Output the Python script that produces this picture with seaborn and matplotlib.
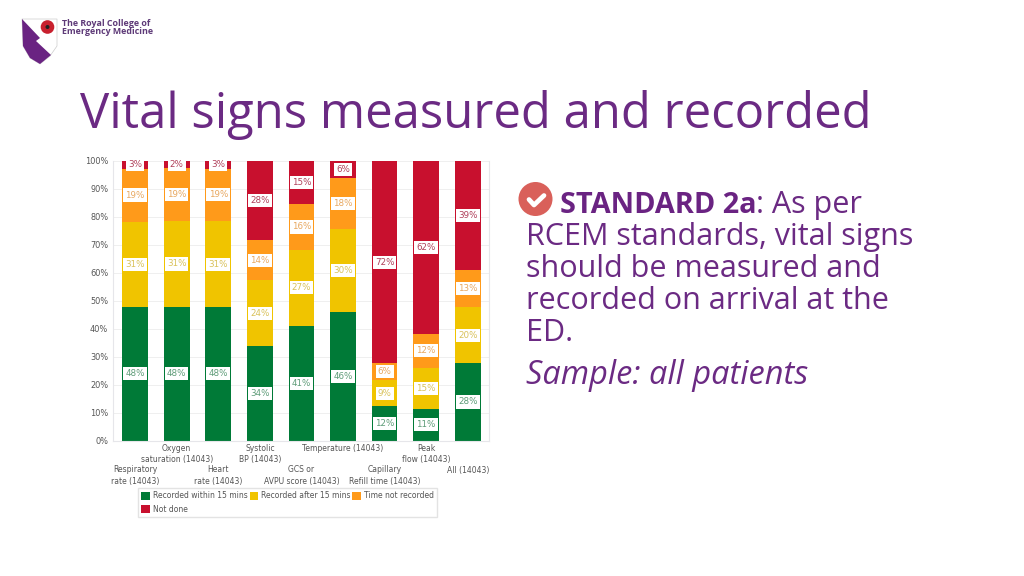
import matplotlib
matplotlib.use("Agg")
import matplotlib.pyplot as plt
from matplotlib.patches import Polygon, Circle, Patch
import numpy as np
import seaborn as sns

categories = ["Respiratory\nrate (14043)", "Oxygen\nsaturation (14043)", "Heart\nrate (14043)",
              "Systolic\nBP (14043)", "GCS or\nAVPU score (14043)", "Temperature (14043)",
              "Capillary\nRefill time (14043)", "Peak\nflow (14043)", "All (14043)"]
within_15 = [47.7, 47.7, 47.7, 33.8, 41.0, 45.9, 12.3, 11.2, 27.6]
after_15 = [30.6, 30.9, 30.8, 23.5, 27.2, 29.7, 9.2, 14.8, 20.2]
no_time = [19.0, 19.0, 18.8, 14.3, 16.4, 18.4, 6.1, 12.2, 13.2]
not_done = [2.7, 2.4, 2.7, 28.4, 15.4, 6.0, 72.4, 61.8, 39.0]
series_names = ["Recorded within 15 mins", "Recorded after 15 mins", "Time not recorded", "Not done"]
series_values = [within_15, after_15, no_time, not_done]
series_colors = ["#007A37", "#F0C400", "#FF9A1A", "#C8102E"]
label_colors = ["#5E9C78", "#D9C25A", "#E8A860", "#B0405A"]
y_ticks = [0, 10, 20, 30, 40, 50, 60, 70, 80, 90, 100]

title = "Vital signs measured and recorded"
body_lines = ["RCEM standards, vital signs", "should be measured and",
              "recorded on arrival at the", "ED."]
PURPLE = "#6B2A83"
BODY = "#6B2A83"
TEXT_FONT = ["Open Sans", "DejaVu Sans"]
CHART_FONT = ["DejaVu Sans"]

sns.set_theme(style="white")
plt.rcParams["font.family"] = CHART_FONT

W, H = 1024, 576
fig = plt.figure(figsize=(W / 100, H / 100), dpi=100, facecolor="white")

def rect(l, t, r, b):
    return [l / W, 1 - b / H, (r - l) / W, (b - t) / H]

ax = fig.add_axes(rect(113, 161, 489, 440.5))
bottom = np.zeros(len(categories))
for vals, col in zip(series_values, series_colors):
    vals = np.array(vals)
    sns.barplot(x=categories, y=vals, bottom=bottom, color=col, saturation=1, width=0.62,
                ax=ax, errorbar=None, linewidth=0)
    bottom = bottom + vals

bottom = np.zeros(len(categories))
for vals, tc in zip(series_values, label_colors):
    for i, v in enumerate(vals):
        ax.text(i, bottom[i] + v / 2, f"{round(v)}%", ha="center", va="center", fontsize=6.3,
                color=tc, zorder=6, clip_on=False,
                bbox=dict(boxstyle="square,pad=0.24", fc="white", ec="none"))
    bottom = bottom + np.array(vals)

ax.set_xlim(-0.53, 8.51)
ax.set_ylim(0, 100)
ax.set_yticks(y_ticks)
ax.set_yticklabels([f"{t}%" for t in y_ticks], fontsize=5.9, color="#555555")
ax.grid(axis="y", color="#EFEFEF", lw=0.7)
ax.set_axisbelow(True)
ax.set_xlabel("")
ax.set_ylabel("")
for s in ax.spines.values():
    s.set_color("#E6E6EA")
    s.set_linewidth(0.8)
ax.spines["top"].set_visible(False)
ax.tick_params(axis="y", length=0, pad=3.5)
ax.tick_params(axis="x", length=0)
for i, (tick, lab) in enumerate(zip(ax.xaxis.get_major_ticks(), ax.get_xticklabels())):
    tick.set_pad(2.2 if i % 2 else 18)
    lab.set_fontsize(5.5)
    lab.set_color("#555555")
    lab.set_linespacing(1.4)

legend_order = [0, 3, 1, 2]
handles = [Patch(fc=series_colors[k], ec="none") for k in legend_order]
labels = [series_names[k] for k in legend_order]
leg = fig.legend(handles, labels, ncol=3, loc="upper left",
                 bbox_to_anchor=(138 / W, 1 - 488 / H), bbox_transform=fig.transFigure,
                 fontsize=5.5, frameon=True, fancybox=False, edgecolor="#DDDDDD",
                 handlelength=1.1, handleheight=1.1, handletextpad=0.4, columnspacing=0.25,
                 labelspacing=0.55, borderpad=0.45, borderaxespad=0, labelcolor="#555555")

# Overlay in pixel coordinates for the slide furniture
ov = fig.add_axes([0, 0, 1, 1], zorder=-1)
ov.set_xlim(0, W)
ov.set_ylim(H, 0)
ov.axis("off")
shield = [(22, 19), (57, 19), (57, 46), (50, 56), (40, 64), (30, 58), (23, 46)]
ov.add_patch(Polygon(shield, closed=True, fc="white", ec="#CCCCCC", lw=0.5))
ov.add_patch(Polygon([(22, 19), (40, 38), (36, 41), (51, 55), (40, 64), (30, 58), (23, 46)],
                     closed=True, fc="#6A2382", ec="none"))
ov.add_patch(Circle((47.5, 27), 6.8, fc="#C8202E", ec="none"))
ov.add_patch(Circle((47.5, 27), 2, fc="#222222", ec="none"))
ov.text(62, 25.5, "The Royal College of", fontsize=6.4, fontweight="bold", color="#5E3A78",
        family=["Open Sans"], va="baseline")
ov.text(62, 34.5, "Emergency Medicine", fontsize=6.4, fontweight="bold", color="#5E3A78",
        family=["Open Sans"], va="baseline")

ov.text(80, 127.5, title, fontsize=35.3, color=PURPLE, family=TEXT_FONT, va="baseline")

ov.add_patch(Circle((535.5, 199), 17, fc="#D9605A", ec="none"))
ov.plot([529, 534, 544], [199.5, 205, 195.5], color="white", lw=3.4, solid_capstyle="round",
        solid_joinstyle="round")
t1 = ov.text(560, 213, "STANDARD 2a", fontsize=20.8, fontweight="bold", color="#6A2382",
             family=TEXT_FONT, va="baseline")
ov.annotate(": As per", xy=(1, 0), xycoords=t1, xytext=(0, 0), textcoords="offset points",
            fontsize=22, color=BODY, family=TEXT_FONT, va="bottom", ha="left")
for y, line in zip([245, 277, 309, 341], body_lines):
    ov.text(526, y, line, fontsize=22, color=BODY, family=TEXT_FONT, va="baseline")
ov.text(526, 384, "Sample: all patients", fontsize=23.4, fontstyle="italic",
        color=BODY, family=TEXT_FONT, va="baseline")

fig.savefig("out.png", dpi=100, facecolor="white")
